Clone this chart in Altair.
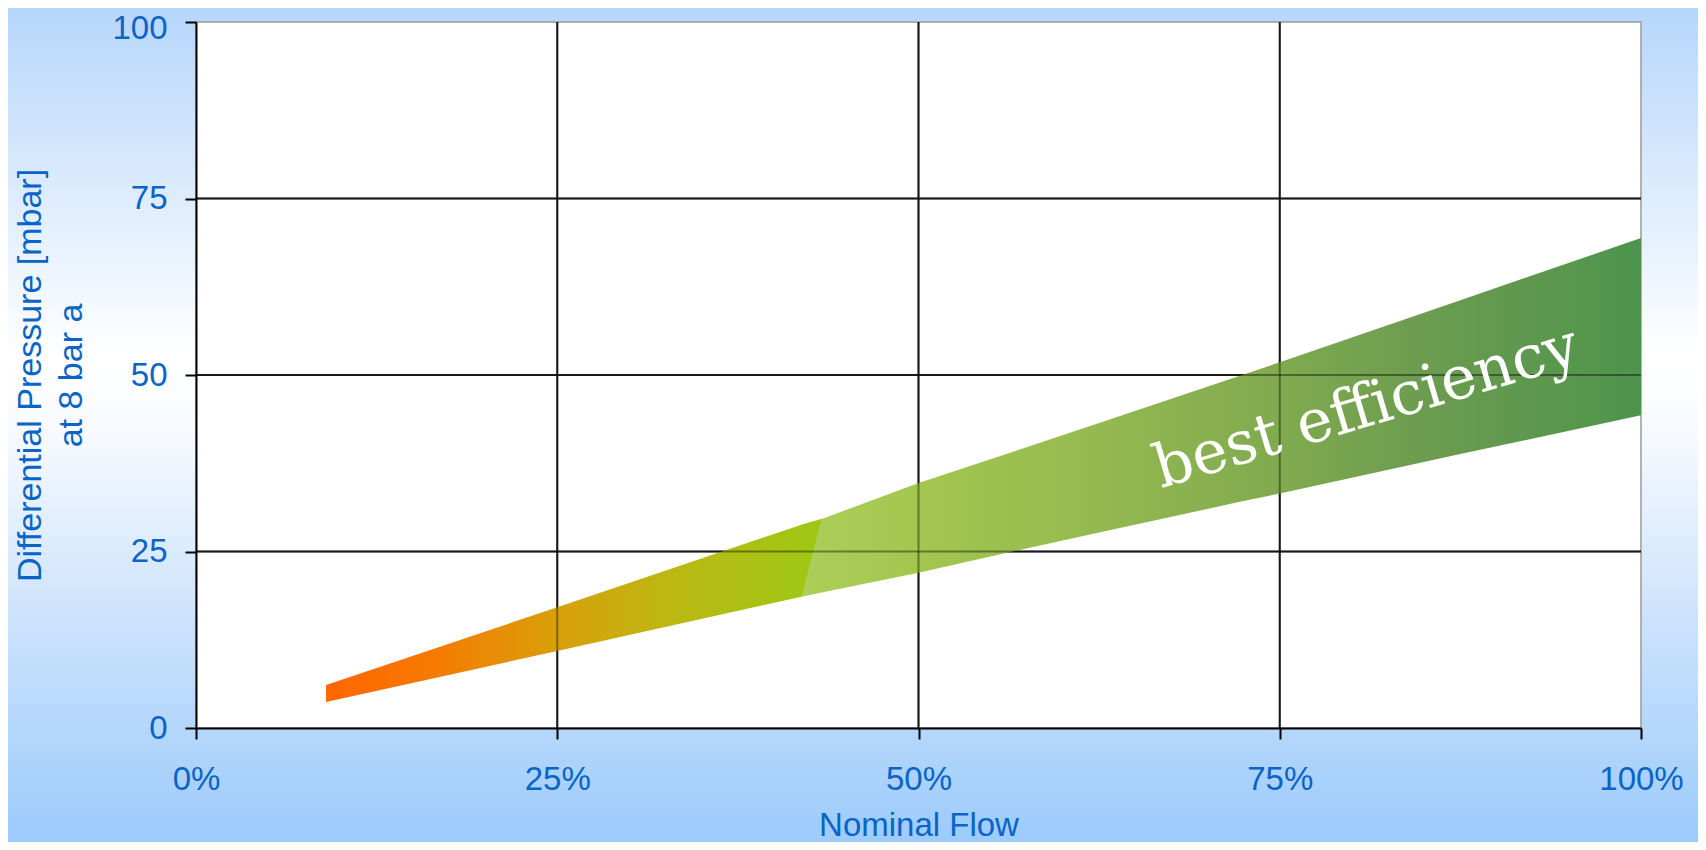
import altair as alt
import pandas as pd

# ---- data ----
flow_pct = [9, 25, 41.9, 43.3, 50, 56.5, 62.5, 72.4, 75, 87.5, 100]
dp_upper = [6.1, 17.1, 28.8, 29.6, 34.7, 39.1, 43.2, 50.0, 51.8, 60.6, 69.4]
dp_lower = [3.7, 10.9, 18.6, 19.2, 22.0, 25.0, 27.7, 32.1, 33.2, 38.8, 44.3]
split_low = 41.9    # where the colour change meets the lower edge
split_high = 43.3   # where the colour change meets the upper edge
x_ticks = [0, 25, 50, 75, 100]
y_ticks = [0, 25, 50, 75, 100]
grid_vals = [25, 50, 75]
label_text = ["best efficiency"]
label_x = [81.0]
label_y = [45.3]

# ---- layout ----
W, H = 1445, 706
PAD = {"left": 188, "top": 14, "right": 57, "bottom": 114}
BLUE = "#0a64c8"
FONT = "Liberation Sans"

band = pd.DataFrame({"flow": flow_pct, "upper": dp_upper, "lower": dp_lower})
seg1 = band[band["flow"] <= split_high].copy()
seg1.loc[seg1["flow"] == split_high, "lower"] = seg1.loc[seg1["flow"] == split_high, "upper"]
seg2 = band[band["flow"] >= split_low].copy()

xs = alt.Scale(domain=[0, 100], nice=False, zero=False)
ys = alt.Scale(domain=[0, 100], nice=False, zero=False)

x_axis = alt.Axis(
    values=x_ticks, labelExpr="datum.value + '%'", title="Nominal Flow", grid=False,
    domainColor="black", domainWidth=2, tickColor="black", tickWidth=2, tickSize=11,
    labelPadding=24, labelFont=FONT, labelFontSize=33, labelColor=BLUE,
    labelFlush=False, labelOverlap=False,
    titleFont=FONT, titleFontSize=33, titleColor=BLUE, titleFontWeight="normal",
    titleY=107, titleBaseline="alphabetic", zindex=1,
)
y_axis = alt.Axis(
    values=y_ticks, format="d", title=["Differential Pressure [mbar]", "at 8 bar a"], grid=False,
    domainColor="black", domainWidth=2, tickColor="black", tickWidth=2, tickSize=11,
    labelPadding=18, labelFont=FONT, labelFontSize=33, labelColor=BLUE,
    labelFlush=False, labelOverlap=False,
    labelOffset={"condition": {"test": "datum.value === 100", "value": 6}, "value": 0},
    titleFont=FONT, titleFontSize=34, titleColor=BLUE, titleFontWeight="normal",
    titleAngle=270, titleX=-166, titleY=H / 2, titleAlign="center", titleBaseline="middle",
    titleLineHeight=41, zindex=1,
)

one = pd.DataFrame({"a": [0]})

bg_grad = alt.LinearGradient(
    gradient="linear", x1=0, y1=0, x2=0, y2=1,
    stops=[
        alt.GradientStop(offset=0.0, color="#b6d6fb"),
        alt.GradientStop(offset=0.2, color="#d9eafd"),
        alt.GradientStop(offset=0.42, color="#ffffff"),
        alt.GradientStop(offset=0.5, color="#f8fbff"),
        alt.GradientStop(offset=0.75, color="#c9e1fc"),
        alt.GradientStop(offset=1.0, color="#9ccbfb"),
    ],
)
background = alt.Chart(one).mark_rect(fill=bg_grad).encode(
    x=alt.value(-PAD["left"]), x2=alt.value(W + PAD["right"]),
    y=alt.value(-PAD["top"]), y2=alt.value(H + PAD["bottom"]),
)
plot_bg = alt.Chart(one).mark_rect(fill="white", stroke="#9a9a9a", strokeWidth=1.5).encode(
    x=alt.value(0), x2=alt.value(W), y=alt.value(0), y2=alt.value(H),
)

grid_df = pd.DataFrame({"g": grid_vals})
vgrid = alt.Chart(grid_df).mark_rule(color="#2b2b2b", strokeWidth=2).encode(
    x=alt.X("g:Q", scale=xs, axis=x_axis))
hgrid = alt.Chart(grid_df).mark_rule(color="#2b2b2b", strokeWidth=2).encode(
    y=alt.Y("g:Q", scale=ys, axis=y_axis))
vgrid_over = alt.Chart(grid_df).mark_rule(color="black", strokeWidth=2, opacity=0.4).encode(
    x=alt.X("g:Q", scale=xs, axis=x_axis))
hgrid_over = alt.Chart(grid_df).mark_rule(color="black", strokeWidth=2, opacity=0.4).encode(
    y=alt.Y("g:Q", scale=ys, axis=y_axis))

grad2 = alt.LinearGradient(
    gradient="linear", x1=0, y1=0, x2=1, y2=0,
    stops=[
        alt.GradientStop(offset=0.0, color="#abcf58"),
        alt.GradientStop(offset=0.14, color="#a2c64e"),
        alt.GradientStop(offset=0.31, color="#98bc50"),
        alt.GradientStop(offset=0.48, color="#88b050"),
        alt.GradientStop(offset=0.57, color="#80aa4e"),
        alt.GradientStop(offset=0.74, color="#6c9c50"),
        alt.GradientStop(offset=1.0, color="#4e944c"),
    ],
)
grad1 = alt.LinearGradient(
    gradient="linear", x1=0, y1=0, x2=1, y2=0,
    stops=[
        alt.GradientStop(offset=0.0, color="#ff6600"),
        alt.GradientStop(offset=0.2, color="#f87800"),
        alt.GradientStop(offset=0.47, color="#d8a00a"),
        alt.GradientStop(offset=0.7, color="#bcb812"),
        alt.GradientStop(offset=1.0, color="#9cc814"),
    ],
)

area2 = alt.Chart(seg2).mark_area(fill=grad2).encode(
    x=alt.X("flow:Q", scale=xs, axis=x_axis),
    y=alt.Y("upper:Q", scale=ys, axis=y_axis),
    y2="lower:Q",
)
area1 = alt.Chart(seg1).mark_area(fill=grad1).encode(
    x=alt.X("flow:Q", scale=xs, axis=x_axis),
    y=alt.Y("upper:Q", scale=ys, axis=y_axis),
    y2="lower:Q",
)

label_df = pd.DataFrame({"t": label_text, "x": label_x, "y": label_y})
label = alt.Chart(label_df).mark_text(
    font="DejaVu Serif", fontSize=60, color="white", angle=343.4,
    align="center", baseline="middle",
).encode(
    x=alt.X("x:Q", scale=xs, axis=x_axis),
    y=alt.Y("y:Q", scale=ys, axis=y_axis),
    text="t:N",
)

chart = alt.layer(
    background, plot_bg, vgrid, hgrid, area2, area1, vgrid_over, hgrid_over, label
).properties(
    width=W, height=H,
    autosize=alt.AutoSizeParams(type="none"),
    padding=PAD,
    background="transparent",
).configure_view(stroke=None)

chart.save("out.html", embed_options={"renderer": "svg", "actions": False})
